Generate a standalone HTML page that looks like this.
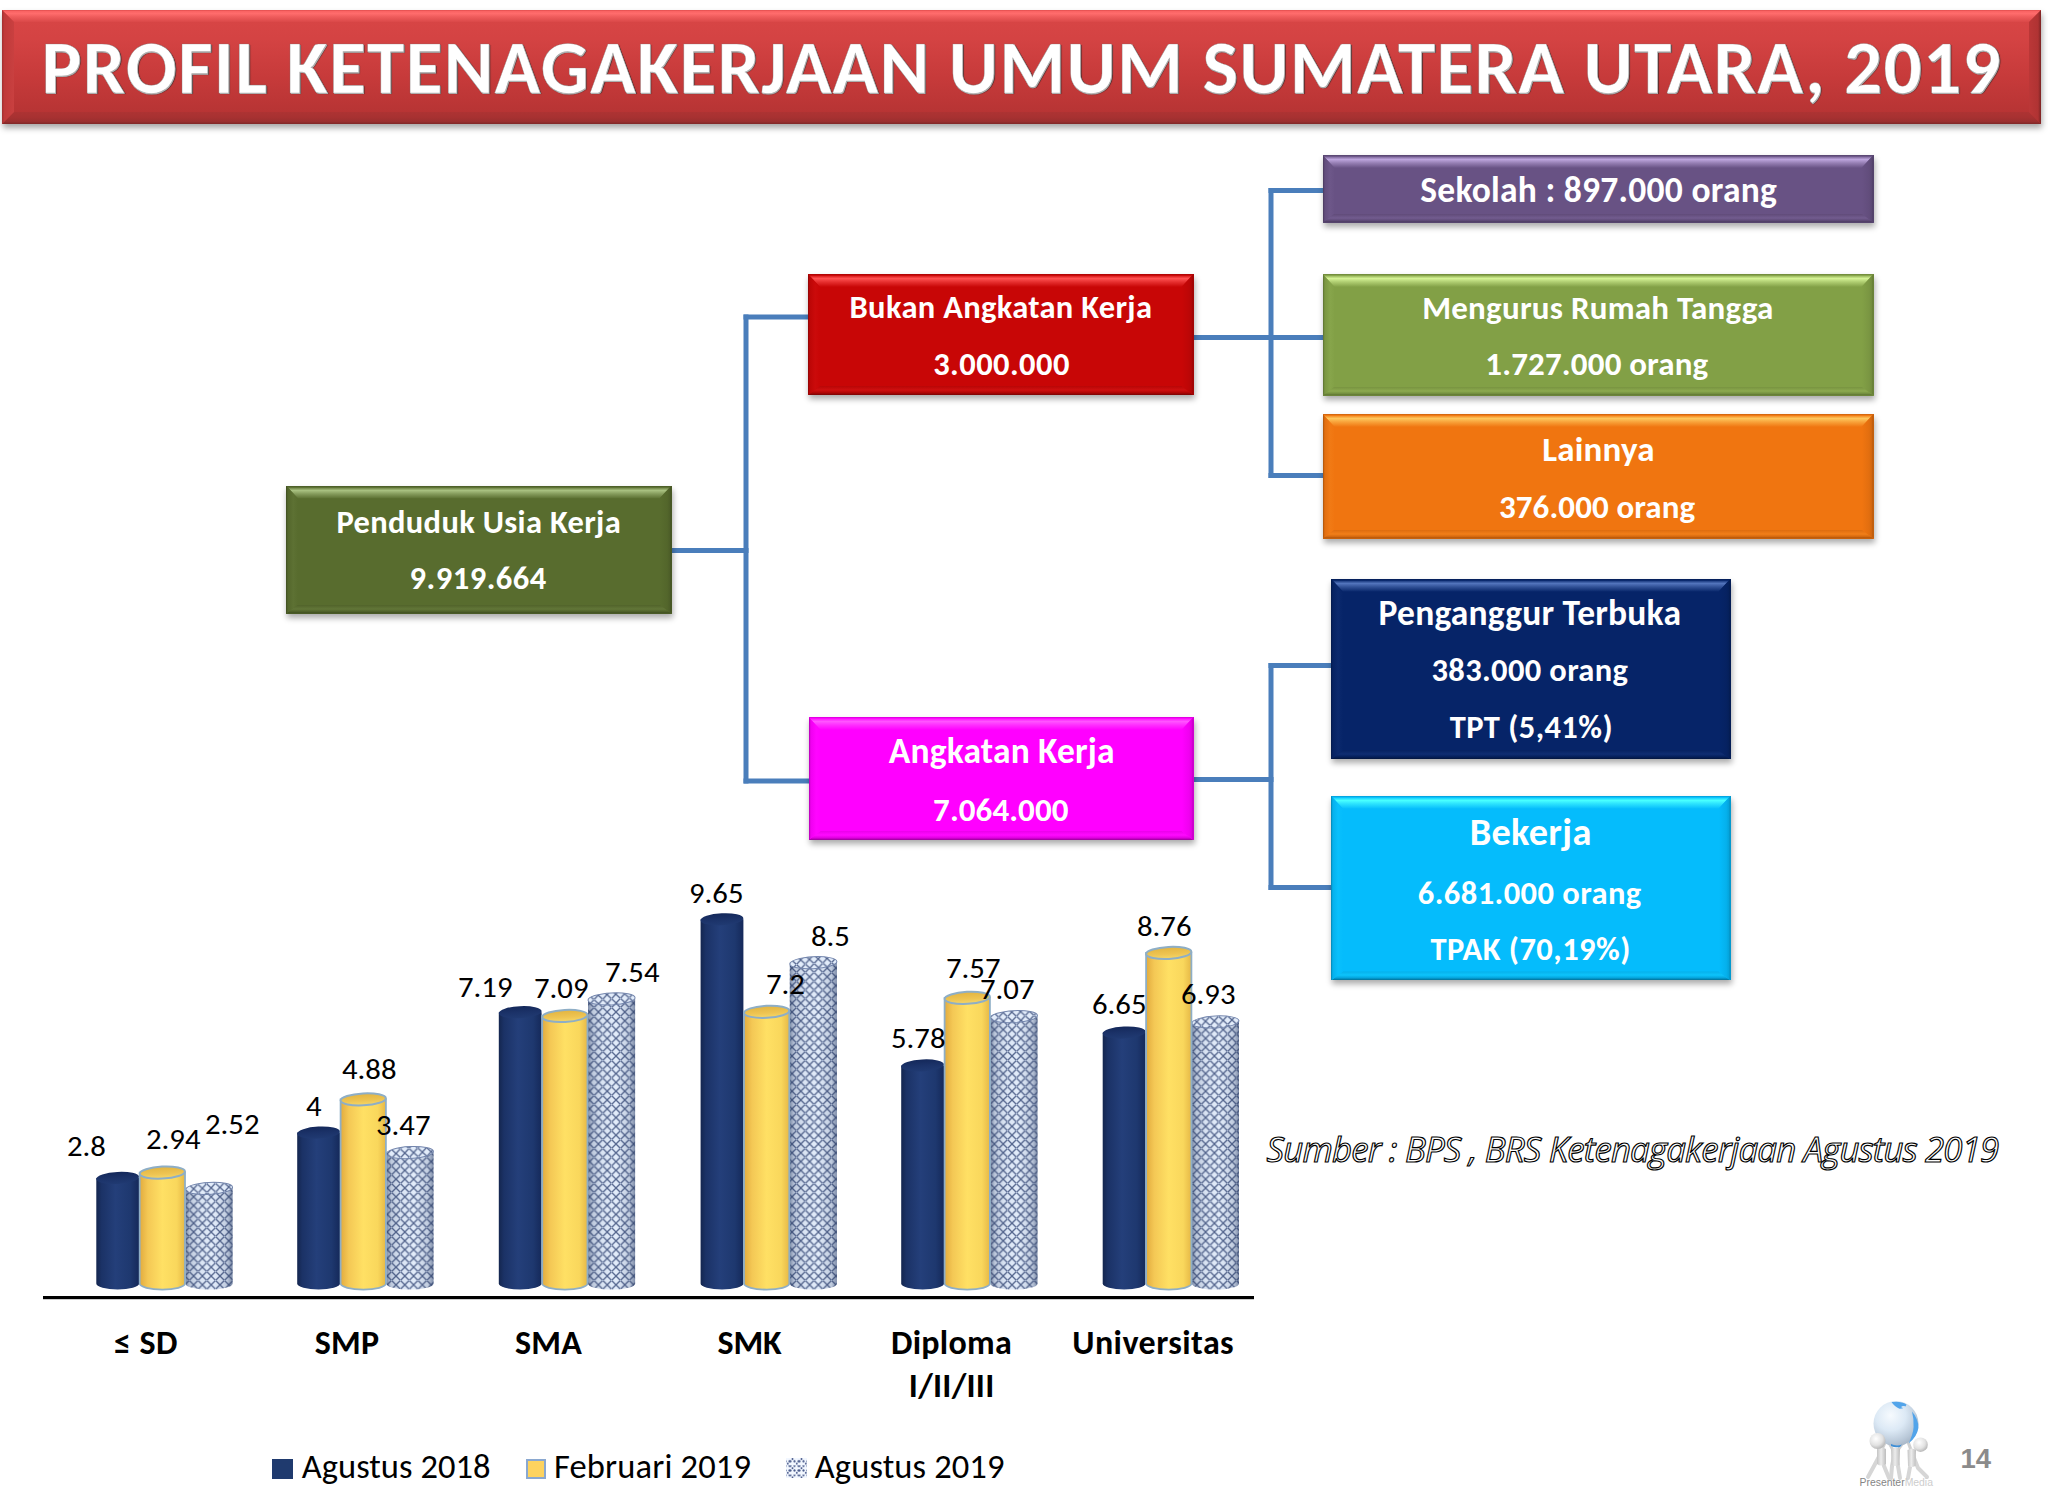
<!DOCTYPE html>
<html><head><meta charset="utf-8"><title>Profil Ketenagakerjaan Umum Sumatera Utara 2019</title>
<style>
html,body{margin:0;padding:0;background:#fff;}
body{width:2048px;height:1500px;position:relative;overflow:hidden;font-family:"Carlito", "Liberation Sans", sans-serif;}
.abs{position:absolute;}
.bx{position:absolute;box-sizing:border-box;}
.bx i{position:absolute;display:block;}
.t{position:absolute;white-space:nowrap;font-family:"Carlito", "Liberation Sans", sans-serif;}
</style></head>
<body>
<div class="bx" style="left:2px;top:10px;width:2039px;height:114px;background:linear-gradient(#d94646 0,#d44343 25%,#c63a3a 60%,#b23232 100%);box-shadow:1px 4px 6px rgba(0,0,0,.35)"><i style="left:0;top:0;width:2039px;height:12px;clip-path:polygon(0 0,100% 0,calc(100% - 12px) 100%,12px 100%);background:linear-gradient(#e04c4c 0,#fa6464 12%,#ff6c6c 30%,#f05d5d 55%,#da4848 100%)"></i><i style="left:0;top:102px;width:2039px;height:12px;clip-path:polygon(12px 0,calc(100% - 12px) 0,100% 100%,0 100%);background:linear-gradient(#ad3333 0,#a73131 45%,#9a2f2f 80%,#7e2727 100%)"></i><i style="left:0;top:0;width:12px;height:114px;clip-path:polygon(0 0,100% 12px,100% calc(100% - 12px),0 100%);background:linear-gradient(90deg,#a33030 0,#c03a3a 20%,#c94040 100%)"></i><i style="left:2027px;top:0;width:12px;height:114px;clip-path:polygon(0 12px,100% 0,100% 100%,0 calc(100% - 12px));background:linear-gradient(90deg,#bb3737 0,#b03333 75%,#7c2424 100%)"></i></div>
<div class="t" style="left:41.40px;top:30.40px;font-size:75.5px;line-height:75.5px;font-weight:bold;color:#fff;letter-spacing:1.199px;text-shadow:0.6px 0.6px 0 #b8b8b8,1.2px 1.4px 0.8px rgba(40,40,40,.85);-webkit-text-stroke:0.6px rgba(120,120,120,.55);">PROFIL KETENAGAKERJAAN UMUM SUMATERA UTARA, 2019</div>
<svg class="abs" width="2048" height="1500" style="left:0;top:0"><g stroke="#4a7ebb" stroke-width="5" stroke-linecap="square"><line x1="671" y1="550.5" x2="746" y2="550.5"/><line x1="746" y1="317" x2="746" y2="781"/><line x1="746" y1="317" x2="808" y2="317"/><line x1="746" y1="781" x2="808" y2="781"/><line x1="1193" y1="337.5" x2="1322" y2="337.5"/><line x1="1271" y1="190.5" x2="1271" y2="475.5"/><line x1="1271" y1="190.5" x2="1322" y2="190.5"/><line x1="1271" y1="475.5" x2="1322" y2="475.5"/><line x1="1193" y1="779.5" x2="1271" y2="779.5"/><line x1="1271" y1="665.5" x2="1271" y2="887.5"/><line x1="1271" y1="665.5" x2="1331" y2="665.5"/><line x1="1271" y1="887.5" x2="1331" y2="887.5"/></g></svg>
<div class="bx" style="left:286px;top:485.5px;width:385.5px;height:128.0px;background:#586c2e;box-shadow:1px 4px 6px rgba(0,0,0,.33);"><i style="left:0;top:0;width:385.5px;height:13px;clip-path:polygon(0 0,100% 0,calc(100% - 12px) 100%,12px 100%);background:linear-gradient(#485926 0,#586c2e 1.3px,#809657 2.6px,#a8c080 4.5px,#849a5b 8px,#586c2e 13px)"></i><i style="left:0;top:119.0px;width:385.5px;height:9px;clip-path:polygon(12px 0,calc(100% - 12px) 0,100% 100%,0 100%);background:linear-gradient(#51632a 0,#627638 45%,#4d5f28 75%,#35411c 100%)"></i><i style="left:0;top:0;width:12px;height:128.0px;clip-path:polygon(0 0,100% 13px,100% calc(100% - 9px),0 100%);background:linear-gradient(90deg,#3e4c20 0,#53662b 15%,#5d7133 60%,#586c2e 100%)"></i><i style="left:373.5px;top:0;width:12px;height:128.0px;clip-path:polygon(0 13px,100% 0,100% 100%,0 calc(100% - 9px));background:linear-gradient(90deg,#586c2e 0,#53662b 60%,#4c5d28 85%,#303b19 100%)"></i></div>
<div class="t" style="left:336.50px;top:505.80px;font-size:32.5px;line-height:32.5px;font-weight:bold;color:#fff;letter-spacing:0.331px;">Penduduk Usia Kerja</div>
<div class="t" style="left:409.60px;top:561.75px;font-size:32.5px;line-height:32.5px;font-weight:bold;color:#fff;letter-spacing:0.501px;">9.919.664</div>
<div class="bx" style="left:808px;top:274px;width:385.5px;height:121px;background:#c80606;box-shadow:1px 4px 6px rgba(0,0,0,.33);"><i style="left:0;top:0;width:385.5px;height:13px;clip-path:polygon(0 0,100% 0,calc(100% - 12px) 100%,12px 100%);background:linear-gradient(#a40505 0,#c80606 1.3px,#e42b2b 2.6px,#ff5050 4.5px,#e62f2f 8px,#c80606 13px)"></i><i style="left:0;top:112px;width:385.5px;height:9px;clip-path:polygon(12px 0,calc(100% - 12px) 0,100% 100%,0 100%);background:linear-gradient(#b80606 0,#cf0f0f 45%,#b00505 75%,#780404 100%)"></i><i style="left:0;top:0;width:12px;height:121px;clip-path:polygon(0 0,100% 13px,100% calc(100% - 9px),0 100%);background:linear-gradient(90deg,#8c0404 0,#bc0606 15%,#cb0a0a 60%,#c80606 100%)"></i><i style="left:373.5px;top:0;width:12px;height:121px;clip-path:polygon(0 13px,100% 0,100% 100%,0 calc(100% - 9px));background:linear-gradient(90deg,#c80606 0,#bc0606 60%,#ac0505 85%,#6e0303 100%)"></i></div>
<div class="t" style="left:849.60px;top:290.80px;font-size:32.5px;line-height:32.5px;font-weight:bold;color:#fff;letter-spacing:0.313px;">Bukan Angkatan Kerja</div>
<div class="t" style="left:933.20px;top:347.80px;font-size:32.5px;line-height:32.5px;font-weight:bold;color:#fff;letter-spacing:0.438px;">3.000.000</div>
<div class="bx" style="left:808.5px;top:717px;width:385.0px;height:123px;background:#ff00ff;box-shadow:1px 4px 6px rgba(0,0,0,.33);"><i style="left:0;top:0;width:385.0px;height:13px;clip-path:polygon(0 0,100% 0,calc(100% - 12px) 100%,12px 100%);background:linear-gradient(#d100d1 0,#ff00ff 1.3px,#ff2aff 2.6px,#ff55ff 4.5px,#ff2fff 8px,#ff00ff 13px)"></i><i style="left:0;top:114px;width:385.0px;height:9px;clip-path:polygon(12px 0,calc(100% - 12px) 0,100% 100%,0 100%);background:linear-gradient(#eb00eb 0,#ff0aff 45%,#e000e0 75%,#990099 100%)"></i><i style="left:0;top:0;width:12px;height:123px;clip-path:polygon(0 0,100% 13px,100% calc(100% - 9px),0 100%);background:linear-gradient(90deg,#b200b2 0,#f000f0 15%,#ff05ff 60%,#ff00ff 100%)"></i><i style="left:373.0px;top:0;width:12px;height:123px;clip-path:polygon(0 13px,100% 0,100% 100%,0 calc(100% - 9px));background:linear-gradient(90deg,#ff00ff 0,#f000f0 60%,#db00db 85%,#8c008c 100%)"></i></div>
<div class="t" style="left:888.80px;top:733.80px;font-size:35.5px;line-height:35.5px;font-weight:bold;color:#fff;letter-spacing:0.170px;">Angkatan Kerja</div>
<div class="t" style="left:933.10px;top:793.80px;font-size:33px;line-height:33px;font-weight:bold;color:#fff;letter-spacing:0.077px;">7.064.000</div>
<div class="bx" style="left:1322.5px;top:155px;width:551.0px;height:67.5px;background:#685284;box-shadow:1px 4px 6px rgba(0,0,0,.33);"><i style="left:0;top:0;width:551.0px;height:13px;clip-path:polygon(0 0,100% 0,calc(100% - 12px) 100%,12px 100%);background:linear-gradient(#55436c 0,#685284 1.3px,#927bb0 2.6px,#bca4dc 4.5px,#967fb4 8px,#685284 13px)"></i><i style="left:0;top:58.5px;width:551.0px;height:9px;clip-path:polygon(12px 0,calc(100% - 12px) 0,100% 100%,0 100%);background:linear-gradient(#604b79 0,#725c8f 45%,#5c4874 75%,#3e314f 100%)"></i><i style="left:0;top:0;width:12px;height:67.5px;clip-path:polygon(0 0,100% 13px,100% calc(100% - 9px),0 100%);background:linear-gradient(90deg,#49395c 0,#624d7c 15%,#6d5789 60%,#685284 100%)"></i><i style="left:539.0px;top:0;width:12px;height:67.5px;clip-path:polygon(0 13px,100% 0,100% 100%,0 calc(100% - 9px));background:linear-gradient(90deg,#685284 0,#624d7c 60%,#594772 85%,#392d49 100%)"></i></div>
<div class="t" style="left:1420.20px;top:173.10px;font-size:35.5px;line-height:35.5px;font-weight:bold;color:#fff;letter-spacing:0.270px;">Sekolah : 897.000 orang</div>
<div class="bx" style="left:1322.5px;top:274px;width:551.0px;height:121.5px;background:#82a046;box-shadow:1px 4px 6px rgba(0,0,0,.33);"><i style="left:0;top:0;width:551.0px;height:13px;clip-path:polygon(0 0,100% 0,calc(100% - 12px) 100%,12px 100%);background:linear-gradient(#6b8339 0,#82a046 1.3px,#abc96d 2.6px,#d4f294 4.5px,#afcd71 8px,#82a046 13px)"></i><i style="left:0;top:112.5px;width:551.0px;height:9px;clip-path:polygon(12px 0,calc(100% - 12px) 0,100% 100%,0 100%);background:linear-gradient(#789340 0,#8caa4f 45%,#728d3e 75%,#4e602a 100%)"></i><i style="left:0;top:0;width:12px;height:121.5px;clip-path:polygon(0 0,100% 13px,100% calc(100% - 9px),0 100%);background:linear-gradient(90deg,#5b7031 0,#7a9642 15%,#87a54b 60%,#82a046 100%)"></i><i style="left:539.0px;top:0;width:12px;height:121.5px;clip-path:polygon(0 13px,100% 0,100% 100%,0 calc(100% - 9px));background:linear-gradient(90deg,#82a046 0,#7a9642 60%,#708a3c 85%,#485826 100%)"></i></div>
<div class="t" style="left:1422.20px;top:292.30px;font-size:33px;line-height:33px;font-weight:bold;color:#fff;letter-spacing:0.239px;">Mengurus Rumah Tangga</div>
<div class="t" style="left:1485.30px;top:347.90px;font-size:33px;line-height:33px;font-weight:bold;color:#fff;letter-spacing:0.171px;">1.727.000 orang</div>
<div class="bx" style="left:1322.5px;top:414px;width:551.0px;height:124.5px;background:#f07510;box-shadow:1px 4px 6px rgba(0,0,0,.33);"><i style="left:0;top:0;width:551.0px;height:13px;clip-path:polygon(0 0,100% 0,calc(100% - 12px) 100%,12px 100%);background:linear-gradient(#c5600d 0,#f07510 1.3px,#f79e36 2.6px,#fec65c 4.5px,#f8a23a 8px,#f07510 13px)"></i><i style="left:0;top:115.5px;width:551.0px;height:9px;clip-path:polygon(12px 0,calc(100% - 12px) 0,100% 100%,0 100%);background:linear-gradient(#dd6c0f 0,#f27f19 45%,#d3670e 75%,#90460a 100%)"></i><i style="left:0;top:0;width:12px;height:124.5px;clip-path:polygon(0 0,100% 13px,100% calc(100% - 9px),0 100%);background:linear-gradient(90deg,#a8520b 0,#e26e0f 15%,#f17a15 60%,#f07510 100%)"></i><i style="left:539.0px;top:0;width:12px;height:124.5px;clip-path:polygon(0 13px,100% 0,100% 100%,0 calc(100% - 9px));background:linear-gradient(90deg,#f07510 0,#e26e0f 60%,#ce650e 85%,#844009 100%)"></i></div>
<div class="t" style="left:1542.30px;top:431.70px;font-size:35px;line-height:35px;font-weight:bold;color:#fff;letter-spacing:0.208px;">Lainnya</div>
<div class="t" style="left:1498.90px;top:490.80px;font-size:33px;line-height:33px;font-weight:bold;color:#fff;letter-spacing:0.111px;">376.000 orang</div>
<div class="bx" style="left:1331px;top:578.8px;width:399.5px;height:180.5px;background:#062468;box-shadow:1px 4px 6px rgba(0,0,0,.33);"><i style="left:0;top:0;width:399.5px;height:13px;clip-path:polygon(0 0,100% 0,calc(100% - 12px) 100%,12px 100%);background:linear-gradient(#051e55 0,#062468 1.3px,#2c4c92 2.6px,#5274bc 4.5px,#305096 8px,#062468 13px)"></i><i style="left:0;top:171.5px;width:399.5px;height:9px;clip-path:polygon(12px 0,calc(100% - 12px) 0,100% 100%,0 100%);background:linear-gradient(#062160 0,#0f2e72 45%,#05205c 75%,#04163e 100%)"></i><i style="left:0;top:0;width:12px;height:180.5px;clip-path:polygon(0 0,100% 13px,100% calc(100% - 9px),0 100%);background:linear-gradient(90deg,#041949 0,#062262 15%,#0b296d 60%,#062468 100%)"></i><i style="left:387.5px;top:0;width:12px;height:180.5px;clip-path:polygon(0 13px,100% 0,100% 100%,0 calc(100% - 9px));background:linear-gradient(90deg,#062468 0,#062262 60%,#051f59 85%,#031439 100%)"></i></div>
<div class="t" style="left:1378.60px;top:596.20px;font-size:35.5px;line-height:35.5px;font-weight:bold;color:#fff;letter-spacing:0.200px;">Penganggur Terbuka</div>
<div class="t" style="left:1431.50px;top:654.40px;font-size:32.5px;line-height:32.5px;font-weight:bold;color:#fff;letter-spacing:0.370px;">383.000 orang</div>
<div class="t" style="left:1449.70px;top:710.70px;font-size:32.5px;line-height:32.5px;font-weight:bold;color:#fff;letter-spacing:0.436px;">TPT (5,41%)</div>
<div class="bx" style="left:1331px;top:795.8px;width:399.5px;height:184.70000000000005px;background:#05bcfc;box-shadow:1px 4px 6px rgba(0,0,0,.33);"><i style="left:0;top:0;width:399.5px;height:13px;clip-path:polygon(0 0,100% 0,calc(100% - 12px) 100%,12px 100%);background:linear-gradient(#049acf 0,#05bcfc 1.3px,#26defe 2.6px,#48ffff 4.5px,#2ae1fe 8px,#05bcfc 13px)"></i><i style="left:0;top:175.70000000000005px;width:399.5px;height:9px;clip-path:polygon(12px 0,calc(100% - 12px) 0,100% 100%,0 100%);background:linear-gradient(#05ade8 0,#0dc4fc 45%,#04a5de 75%,#037197 100%)"></i><i style="left:0;top:0;width:12px;height:184.70000000000005px;clip-path:polygon(0 0,100% 13px,100% calc(100% - 9px),0 100%);background:linear-gradient(90deg,#0484b0 0,#05b1ed 15%,#09c0fc 60%,#05bcfc 100%)"></i><i style="left:387.5px;top:0;width:12px;height:184.70000000000005px;clip-path:polygon(0 13px,100% 0,100% 100%,0 calc(100% - 9px));background:linear-gradient(90deg,#05bcfc 0,#05b1ed 60%,#04a2d9 85%,#03678b 100%)"></i></div>
<div class="t" style="left:1469.70px;top:812.60px;font-size:38.3px;line-height:38.3px;font-weight:bold;color:#fff;letter-spacing:0.324px;">Bekerja</div>
<div class="t" style="left:1417.80px;top:876.80px;font-size:32.5px;line-height:32.5px;font-weight:bold;color:#fff;letter-spacing:0.442px;">6.681.000 orang</div>
<div class="t" style="left:1430.50px;top:933.10px;font-size:32.5px;line-height:32.5px;font-weight:bold;color:#fff;letter-spacing:0.468px;">TPAK (70,19%)</div>
<svg class="abs" width="2048" height="1500" style="left:0;top:0"><defs>
<linearGradient id="gN" x1="0" x2="1" y1="0" y2="0">
<stop offset="0" stop-color="#14264f"/><stop offset="0.12" stop-color="#1b3266"/><stop offset="0.45" stop-color="#243f7a"/><stop offset="0.8" stop-color="#1e386f"/><stop offset="1" stop-color="#15295a"/></linearGradient>
<linearGradient id="gNt" x1="0" x2="0" y1="0" y2="1">
<stop offset="0" stop-color="#14285a"/><stop offset="0.5" stop-color="#1b3268"/><stop offset="1" stop-color="#203a72"/></linearGradient>
<linearGradient id="gY" x1="0" x2="1" y1="0" y2="0">
<stop offset="0" stop-color="#e2ab3e"/><stop offset="0.18" stop-color="#f4c855"/><stop offset="0.5" stop-color="#ffe064"/><stop offset="0.82" stop-color="#f9d75c"/><stop offset="1" stop-color="#e6b846"/></linearGradient>
<linearGradient id="gYt" x1="0" x2="0" y1="0" y2="1">
<stop offset="0" stop-color="#e2b440"/><stop offset="0.6" stop-color="#eec452"/><stop offset="1" stop-color="#f6d866"/></linearGradient>
<pattern id="pD" width="8.8" height="8.8" patternUnits="userSpaceOnUse">
<rect width="8.8" height="8.8" fill="#e2ecfa"/>
<path d="M-1 -1L9.8 9.8M9.8 -1L-1 9.8" stroke="#56678f" stroke-width="1.35"/>
<path d="M3.4 4.4L4.4 3.4L5.4 4.4L4.4 5.4Z" fill="#c4d2ea"/>
</pattern>
<pattern id="pL" width="9" height="9.2" patternUnits="userSpaceOnUse" x="787" y="1461">
<rect width="9" height="9.2" fill="#f2f7ff"/>
<g fill="#4c5c8c"><circle cx="0.5" cy="0.5" r="1.1"/><circle cx="4.5" cy="0.5" r="1.1"/><circle cx="0.5" cy="5.1" r="1.1"/><circle cx="4.5" cy="5.1" r="1.1"/><circle cx="2.5" cy="2.8" r="1"/><circle cx="6.8" cy="7.4" r="1"/><circle cx="8.5" cy="0.5" r="1.1"/><circle cx="8.5" cy="5.1" r="1.1"/></g>
</pattern>
<linearGradient id="gPs" x1="0" x2="1" y1="0" y2="0">
<stop offset="0" stop-color="#2a3c64" stop-opacity=".55"/><stop offset="0.1" stop-color="#2a3c64" stop-opacity=".2"/><stop offset="0.3" stop-color="#2a3c64" stop-opacity=".05"/><stop offset="0.6" stop-color="#2a3c64" stop-opacity="0"/><stop offset="0.88" stop-color="#2a3c64" stop-opacity=".18"/><stop offset="1" stop-color="#2a3c64" stop-opacity=".55"/></linearGradient>
</defs><path d="M185.5 1188.4699999999998 L185.5 1283.6 A23.55000000000001 6.0 0 0 0 232.60000000000002 1283.6 L232.60000000000002 1188.4699999999998 Z" fill="url(#pD)"/><path d="M185.5 1188.4699999999998 L185.5 1283.6 A23.55000000000001 6.0 0 0 0 232.60000000000002 1283.6 L232.60000000000002 1188.4699999999998 Z" fill="url(#gPs)"/><ellipse cx="209.05" cy="1188.4699999999998" rx="23.55000000000001" ry="6.0" fill="url(#pD)" stroke="#7486ad" stroke-width="1" transform="rotate(-3 209.05 1188.4699999999998)"/><path d="M96.3 1177.8999999999999 L96.3 1283.6 A21.4 6.0 0 0 0 139.1 1283.6 L139.1 1177.8999999999999 Z" fill="url(#gN)"/><ellipse cx="117.69999999999999" cy="1177.8999999999999" rx="21.4" ry="6.0" fill="url(#gNt)" transform="rotate(-3 117.69999999999999 1177.8999999999999)"/><path d="M139.7 1172.615 L139.7 1283.6 A22.650000000000006 6.0 0 0 0 185.0 1283.6 L185.0 1172.615 Z" fill="url(#gY)" stroke="#8eaec6" stroke-width="1.8"/><ellipse cx="162.35" cy="1172.615" rx="22.650000000000006" ry="6.0" fill="url(#gYt)" stroke="#8eaec6" stroke-width="2" transform="rotate(-3 162.35 1172.615)"/><path d="M386.4 1152.6074999999998 L386.4 1283.6 A23.55000000000001 6.0 0 0 0 433.5 1283.6 L433.5 1152.6074999999998 Z" fill="url(#pD)"/><path d="M386.4 1152.6074999999998 L386.4 1283.6 A23.55000000000001 6.0 0 0 0 433.5 1283.6 L433.5 1152.6074999999998 Z" fill="url(#gPs)"/><ellipse cx="409.95" cy="1152.6074999999998" rx="23.55000000000001" ry="6.0" fill="url(#pD)" stroke="#7486ad" stroke-width="1" transform="rotate(-3 409.95 1152.6074999999998)"/><path d="M297.2 1132.6 L297.2 1283.6 A21.400000000000006 6.0 0 0 0 340.0 1283.6 L340.0 1132.6 Z" fill="url(#gN)"/><ellipse cx="318.6" cy="1132.6" rx="21.400000000000006" ry="6.0" fill="url(#gNt)" transform="rotate(-3 318.6 1132.6)"/><path d="M340.59999999999997 1099.3799999999999 L340.59999999999997 1283.6 A22.650000000000006 6.0 0 0 0 385.9 1283.6 L385.9 1099.3799999999999 Z" fill="url(#gY)" stroke="#8eaec6" stroke-width="1.8"/><ellipse cx="363.25" cy="1099.3799999999999" rx="22.650000000000006" ry="6.0" fill="url(#gYt)" stroke="#8eaec6" stroke-width="2" transform="rotate(-3 363.25 1099.3799999999999)"/><path d="M588.0 998.9649999999999 L588.0 1283.6 A23.55000000000001 6.0 0 0 0 635.1 1283.6 L635.1 998.9649999999999 Z" fill="url(#pD)"/><path d="M588.0 998.9649999999999 L588.0 1283.6 A23.55000000000001 6.0 0 0 0 635.1 1283.6 L635.1 998.9649999999999 Z" fill="url(#gPs)"/><ellipse cx="611.55" cy="998.9649999999999" rx="23.55000000000001" ry="6.0" fill="url(#pD)" stroke="#7486ad" stroke-width="1" transform="rotate(-3 611.55 998.9649999999999)"/><path d="M498.8 1012.1774999999999 L498.8 1283.6 A21.400000000000006 6.0 0 0 0 541.6 1283.6 L541.6 1012.1774999999999 Z" fill="url(#gN)"/><ellipse cx="520.2" cy="1012.1774999999999" rx="21.400000000000006" ry="6.0" fill="url(#gNt)" transform="rotate(-3 520.2 1012.1774999999999)"/><path d="M542.2 1015.9524999999999 L542.2 1283.6 A22.649999999999977 6.0 0 0 0 587.5 1283.6 L587.5 1015.9524999999999 Z" fill="url(#gY)" stroke="#8eaec6" stroke-width="1.8"/><ellipse cx="564.85" cy="1015.9524999999999" rx="22.649999999999977" ry="6.0" fill="url(#gYt)" stroke="#8eaec6" stroke-width="2" transform="rotate(-3 564.85 1015.9524999999999)"/><path d="M789.8000000000001 962.7249999999999 L789.8000000000001 1283.6 A23.55000000000001 6.0 0 0 0 836.9000000000001 1283.6 L836.9000000000001 962.7249999999999 Z" fill="url(#pD)"/><path d="M789.8000000000001 962.7249999999999 L789.8000000000001 1283.6 A23.55000000000001 6.0 0 0 0 836.9000000000001 1283.6 L836.9000000000001 962.7249999999999 Z" fill="url(#gPs)"/><ellipse cx="813.3500000000001" cy="962.7249999999999" rx="23.55000000000001" ry="6.0" fill="url(#pD)" stroke="#7486ad" stroke-width="1" transform="rotate(-3 813.3500000000001 962.7249999999999)"/><path d="M700.6 919.3124999999999 L700.6 1283.6 A21.399999999999977 6.0 0 0 0 743.4 1283.6 L743.4 919.3124999999999 Z" fill="url(#gN)"/><ellipse cx="722.0" cy="919.3124999999999" rx="21.399999999999977" ry="6.0" fill="url(#gNt)" transform="rotate(-3 722.0 919.3124999999999)"/><path d="M744.0 1011.8 L744.0 1283.6 A22.650000000000034 6.0 0 0 0 789.3000000000001 1283.6 L789.3000000000001 1011.8 Z" fill="url(#gY)" stroke="#8eaec6" stroke-width="1.8"/><ellipse cx="766.6500000000001" cy="1011.8" rx="22.650000000000034" ry="6.0" fill="url(#gYt)" stroke="#8eaec6" stroke-width="2" transform="rotate(-3 766.6500000000001 1011.8)"/><path d="M990.4000000000001 1016.7075 L990.4000000000001 1283.6 A23.549999999999955 6.0 0 0 0 1037.5 1283.6 L1037.5 1016.7075 Z" fill="url(#pD)"/><path d="M990.4000000000001 1016.7075 L990.4000000000001 1283.6 A23.549999999999955 6.0 0 0 0 1037.5 1283.6 L1037.5 1016.7075 Z" fill="url(#gPs)"/><ellipse cx="1013.95" cy="1016.7075" rx="23.549999999999955" ry="6.0" fill="url(#pD)" stroke="#7486ad" stroke-width="1" transform="rotate(-3 1013.95 1016.7075)"/><path d="M901.2 1065.405 L901.2 1283.6 A21.399999999999977 6.0 0 0 0 944.0 1283.6 L944.0 1065.405 Z" fill="url(#gN)"/><ellipse cx="922.6" cy="1065.405" rx="21.399999999999977" ry="6.0" fill="url(#gNt)" transform="rotate(-3 922.6 1065.405)"/><path d="M944.6 997.8325 L944.6 1283.6 A22.650000000000034 6.0 0 0 0 989.9000000000001 1283.6 L989.9000000000001 997.8325 Z" fill="url(#gY)" stroke="#8eaec6" stroke-width="1.8"/><ellipse cx="967.25" cy="997.8325" rx="22.650000000000034" ry="6.0" fill="url(#gYt)" stroke="#8eaec6" stroke-width="2" transform="rotate(-3 967.25 997.8325)"/><path d="M1191.9 1021.9924999999998 L1191.9 1283.6 A23.549999999999955 6.0 0 0 0 1239.0 1283.6 L1239.0 1021.9924999999998 Z" fill="url(#pD)"/><path d="M1191.9 1021.9924999999998 L1191.9 1283.6 A23.549999999999955 6.0 0 0 0 1239.0 1283.6 L1239.0 1021.9924999999998 Z" fill="url(#gPs)"/><ellipse cx="1215.45" cy="1021.9924999999998" rx="23.549999999999955" ry="6.0" fill="url(#pD)" stroke="#7486ad" stroke-width="1" transform="rotate(-3 1215.45 1021.9924999999998)"/><path d="M1102.7 1032.5625 L1102.7 1283.6 A21.399999999999977 6.0 0 0 0 1145.5 1283.6 L1145.5 1032.5625 Z" fill="url(#gN)"/><ellipse cx="1124.1" cy="1032.5625" rx="21.399999999999977" ry="6.0" fill="url(#gNt)" transform="rotate(-3 1124.1 1032.5625)"/><path d="M1146.1000000000001 952.9099999999999 L1146.1000000000001 1283.6 A22.649999999999977 6.0 0 0 0 1191.4 1283.6 L1191.4 952.9099999999999 Z" fill="url(#gY)" stroke="#8eaec6" stroke-width="1.8"/><ellipse cx="1168.75" cy="952.9099999999999" rx="22.649999999999977" ry="6.0" fill="url(#gYt)" stroke="#8eaec6" stroke-width="2" transform="rotate(-3 1168.75 952.9099999999999)"/><rect x="43" y="1296" width="1211" height="3.2" fill="#000"/></svg>
<div class="t" style="left:66.53px;top:1132.10px;font-size:29px;line-height:29px;font-weight:normal;color:#000;transform:scaleX(1.0600);transform-origin:0 0;">2.8</div>
<div class="t" style="left:145.96px;top:1124.50px;font-size:29px;line-height:29px;font-weight:normal;color:#000;transform:scaleX(1.0600);transform-origin:0 0;">2.94</div>
<div class="t" style="left:204.84px;top:1109.50px;font-size:29px;line-height:29px;font-weight:normal;color:#000;transform:scaleX(1.0600);transform-origin:0 0;">2.52</div>
<div class="t" style="left:305.65px;top:1091.60px;font-size:29px;line-height:29px;font-weight:normal;color:#000;transform:scaleX(1.0600);transform-origin:0 0;">4</div>
<div class="t" style="left:341.52px;top:1054.60px;font-size:29px;line-height:29px;font-weight:normal;color:#000;transform:scaleX(1.0600);transform-origin:0 0;">4.88</div>
<div class="t" style="left:376.19px;top:1111.00px;font-size:29px;line-height:29px;font-weight:normal;color:#000;transform:scaleX(1.0600);transform-origin:0 0;">3.47</div>
<div class="t" style="left:458.19px;top:973.00px;font-size:29px;line-height:29px;font-weight:normal;color:#000;transform:scaleX(1.0600);transform-origin:0 0;">7.19</div>
<div class="t" style="left:533.54px;top:974.00px;font-size:29px;line-height:29px;font-weight:normal;color:#000;transform:scaleX(1.0600);transform-origin:0 0;">7.09</div>
<div class="t" style="left:604.66px;top:957.70px;font-size:29px;line-height:29px;font-weight:normal;color:#000;transform:scaleX(1.0600);transform-origin:0 0;">7.54</div>
<div class="t" style="left:689.42px;top:879.00px;font-size:29px;line-height:29px;font-weight:normal;color:#000;transform:scaleX(1.0600);transform-origin:0 0;">9.65</div>
<div class="t" style="left:765.83px;top:970.40px;font-size:29px;line-height:29px;font-weight:normal;color:#000;transform:scaleX(1.0600);transform-origin:0 0;">7.2</div>
<div class="t" style="left:810.76px;top:921.60px;font-size:29px;line-height:29px;font-weight:normal;color:#000;transform:scaleX(1.0600);transform-origin:0 0;">8.5</div>
<div class="t" style="left:890.94px;top:1023.50px;font-size:29px;line-height:29px;font-weight:normal;color:#000;transform:scaleX(1.0600);transform-origin:0 0;">5.78</div>
<div class="t" style="left:945.54px;top:953.80px;font-size:29px;line-height:29px;font-weight:normal;color:#000;transform:scaleX(1.0600);transform-origin:0 0;">7.57</div>
<div class="t" style="left:980.44px;top:975.40px;font-size:29px;line-height:29px;font-weight:normal;color:#000;transform:scaleX(1.0600);transform-origin:0 0;">7.07</div>
<div class="t" style="left:1092.12px;top:990.40px;font-size:29px;line-height:29px;font-weight:normal;color:#000;transform:scaleX(1.0600);transform-origin:0 0;">6.65</div>
<div class="t" style="left:1136.84px;top:911.50px;font-size:29px;line-height:29px;font-weight:normal;color:#000;transform:scaleX(1.0600);transform-origin:0 0;">8.76</div>
<div class="t" style="left:1181.04px;top:980.40px;font-size:29px;line-height:29px;font-weight:normal;color:#000;transform:scaleX(1.0600);transform-origin:0 0;">6.93</div>
<div class="t" style="left:114.10px;top:1325.80px;font-size:34px;line-height:34px;font-weight:bold;color:#000;letter-spacing:0.370px;">&le; SD</div>
<div class="t" style="left:314.80px;top:1325.80px;font-size:34px;line-height:34px;font-weight:bold;color:#000;letter-spacing:0.206px;">SMP</div>
<div class="t" style="left:515.00px;top:1325.80px;font-size:34px;line-height:34px;font-weight:bold;color:#000;letter-spacing:0.206px;">SMA</div>
<div class="t" style="left:717.50px;top:1325.80px;font-size:34px;line-height:34px;font-weight:bold;color:#000;letter-spacing:-0.194px;">SMK</div>
<div class="t" style="left:891.00px;top:1325.80px;font-size:34px;line-height:34px;font-weight:bold;color:#000;letter-spacing:0.281px;">Diploma</div>
<div class="t" style="left:1072.30px;top:1325.80px;font-size:34px;line-height:34px;font-weight:bold;color:#000;letter-spacing:0.430px;">Universitas</div>
<div class="t" style="left:908.80px;top:1368.50px;font-size:34px;line-height:34px;font-weight:bold;color:#000;letter-spacing:0.266px;">I/II/III</div>
<div class="abs" style="left:271.5px;top:1459px;width:21px;height:20px;background:#1f3a6e"></div>
<div class="abs" style="left:525.5px;top:1459px;width:20.5px;height:20px;background:#fdd35f;box-sizing:border-box;border:2px solid #8aa8d0"></div>
<svg class="abs" style="left:786px;top:1458px" width="21" height="20"><rect width="21" height="20" fill="url(#pL)"/></svg>
<div class="t" style="left:301.70px;top:1449.20px;font-size:34.5px;line-height:34.5px;font-weight:normal;color:#000;letter-spacing:0.039px;">Agustus 2018</div>
<div class="t" style="left:553.90px;top:1449.20px;font-size:34.5px;line-height:34.5px;font-weight:normal;color:#000;letter-spacing:0.173px;">Februari 2019</div>
<div class="t" style="left:814.70px;top:1449.20px;font-size:34.5px;line-height:34.5px;font-weight:normal;color:#000;letter-spacing:0.130px;">Agustus 2019</div>
<div class="t" style="left:1266.60px;top:1132.30px;font-size:34.8px;line-height:34.8px;font-weight:normal;color:#fff;font-style:italic;letter-spacing:-0.842px;font-family:'Open Sans','Liberation Sans',sans-serif;-webkit-text-stroke:1.15px #000;">Sumber : BPS , BRS Ketenagakerjaan Agustus 2019</div>
<div class="t" style="left:1960.5px;top:1445px;font-family:'Liberation Sans',sans-serif;font-weight:bold;font-size:27.5px;line-height:27.5px;color:#8b8b8b">14</div>
<svg class="abs" style="left:1850px;top:1395px" width="100" height="100" viewBox="1850 1395 100 100">
<defs>
<radialGradient id="glb" cx="0.38" cy="0.32" r="0.75"><stop offset="0" stop-color="#f6fafe"/><stop offset="0.45" stop-color="#dce9f5"/><stop offset="0.8" stop-color="#b9c8d8"/><stop offset="1" stop-color="#a4b2c2"/></radialGradient>
<radialGradient id="hd" cx="0.4" cy="0.35" r="0.7"><stop offset="0" stop-color="#ffffff"/><stop offset="0.6" stop-color="#e2e2e2"/><stop offset="1" stop-color="#b0b0b0"/></radialGradient>
<linearGradient id="bd" x1="0" x2="1" y1="0" y2="0"><stop offset="0" stop-color="#c4c4c4"/><stop offset="0.45" stop-color="#ececec"/><stop offset="1" stop-color="#bdbdbd"/></linearGradient>
</defs>
<g stroke="#d6d6d6" stroke-linecap="round" stroke-linejoin="round" fill="none">
<path d="M1881.5 1452 L1874 1466 L1868 1477" stroke-width="4"/>
<path d="M1881.5 1452 L1884 1466 L1889 1478" stroke-width="4"/>
<path d="M1895 1452 L1892 1466 L1891 1478" stroke-width="4"/>
<path d="M1895 1452 L1898 1466 L1900 1478" stroke-width="4"/>
<path d="M1912 1453 L1910 1467 L1908 1478" stroke-width="4"/>
<path d="M1912 1453 L1918 1468 L1927 1477" stroke-width="4"/>
<path d="M1882 1449 L1887 1438" stroke-width="3.2" stroke="#cfcfcf"/>
<path d="M1893 1450 L1889 1443" stroke-width="3" stroke="#cfcfcf"/>
<path d="M1898 1450 L1903 1443" stroke-width="3" stroke="#cfcfcf"/>
<path d="M1911 1450 L1907 1439" stroke-width="3.2" stroke="#cfcfcf"/>
</g>
<g fill="url(#bd)">
<path d="M1877 1449 Q1882 1446 1886 1449 L1886 1464 Q1881 1467 1877 1464 Z"/>
<path d="M1891 1449 Q1895.5 1446 1900 1449 L1899.5 1465 Q1895 1467 1891.5 1465 Z"/>
<path d="M1907.5 1450 Q1912 1447 1916 1450 L1915.5 1466 Q1911 1468 1908 1466 Z"/>
</g>
<circle cx="1896" cy="1423.6" r="22.5" fill="url(#glb)"/>
<path d="M1891.5 1402 Q1901 1400.6 1906.5 1404.5 Q1905.5 1408.5 1899.5 1408.8 Q1894.5 1406.8 1891.5 1402 Z" fill="#52a4ea"/><ellipse cx="1903.5" cy="1407" rx="2.2" ry="1.1" fill="#d8e8f6"/>
<path d="M1912 1411.5 Q1918.6 1419 1918.4 1428 Q1917 1437 1908.5 1443.5 Q1913.2 1434 1913.6 1427 Q1914 1419 1912 1411.5 Z" fill="#52a4ea"/>
<path d="M1891 1444 Q1896 1446.5 1902 1444.5 L1900 1447 Q1895 1448 1891 1446 Z" fill="#3f8fd6"/>
<circle cx="1877.5" cy="1441" r="8" fill="url(#hd)"/>
<circle cx="1920.5" cy="1444.7" r="7.3" fill="url(#hd)"/>
<text x="1859.5" y="1486" font-family="Liberation Sans, sans-serif" font-size="10.5" textLength="73.5" lengthAdjust="spacingAndGlyphs" fill="#858585">Presenter<tspan fill="#cdcdcd">Media</tspan></text>
</svg>
</body></html>
